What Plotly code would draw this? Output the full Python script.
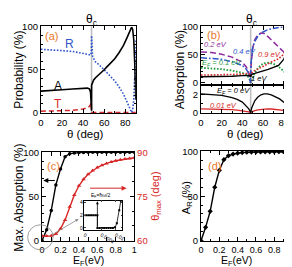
import plotly.graph_objects as go
import math

W, H = 292, 267
FONT = "Liberation Sans, Arial, sans-serif"
ORANGE = "#E8782A"
BLUE = "#2F55C8"
RED = "#D62828"
PURPLE = "#8E2C9E"
GREEN = "#1E9A3C"
GRAY = "#BBBBBB"

def X(px):
    return px / W

def Y(py):
    return 1 - py / H

# ---------------- Panel (a) data ----------------
theta_A = [0, 10, 20, 30, 40, 44, 46, 47, 47.6, 48.0, 48.05, 49, 50, 52, 55, 58, 60, 63, 66, 70, 74, 78, 81, 83, 85, 86, 87, 88, 89, 89.6, 90]
prob_A = [25, 25.5, 26.5, 27.5, 28.5, 28.5, 27.5, 24, 12, 2, 32, 36, 38, 41, 44, 47, 50, 54, 58, 63, 70, 78, 86, 92, 98, 100, 97, 85, 55, 25, 15]
theta_R = [0, 10, 20, 30, 40, 45, 47, 47.8, 48.0, 48.3, 49, 50, 52, 55, 58, 60, 63, 66, 70, 74, 78, 81, 83, 85, 86, 87, 88, 89, 89.6, 90]
prob_R = [74, 73.5, 72.5, 71.5, 69.5, 68, 67, 70, 90, 72, 66, 63, 59, 56, 53, 50, 46, 42, 37, 30, 22, 14, 8, 2, 0, 3, 15, 45, 75, 85]
theta_T = [0, 10, 20, 30, 40, 44, 46, 47, 47.8, 48.0, 50, 60, 70, 80, 90]
prob_T = [1.5, 1.5, 2, 2.5, 4, 5.5, 7, 9, 12, 0, 0, 0, 0, 0, 0]
theta_c = 48

# ---------------- Panel (b) data ----------------
theta_b = [0, 10, 20, 30, 40, 44, 46, 47, 47.6, 48, 48.4, 49, 50, 52, 55, 58, 61, 65, 70, 75, 80, 83, 85, 87, 88, 89, 90]
abs_02 = [55, 54, 51, 46, 37, 28, 20, 12, 5, 0, 30, 48, 62, 77, 86, 89, 88, 82, 73, 65, 55, 42, 30, 14, 6, 2, 0]
abs_04 = [45, 44, 42, 38, 31, 24, 17, 10, 4, 0, 35, 55, 64, 74, 83, 89, 92, 95, 97, 99, 100, 99, 95, 75, 50, 20, 0]
abs_01 = [27, 26, 24.5, 22, 18, 14, 10, 6, 3, 0, 2, 5, 10, 18, 26, 32, 35, 36, 34, 29, 21, 15, 10, 5, 2, 1, 0]
abs_09 = [14, 14, 14.5, 15, 16, 17, 17, 16, 14, 12, 16, 18, 20, 22, 25, 28, 31, 35, 39, 43, 51, 62, 75, 95, 100, 60, 0]
abs_10 = [11, 11, 11.5, 12, 13, 14, 14, 13.5, 12, 11, 14, 15, 16, 17, 19, 21, 22, 24, 27, 31, 42, 55, 70, 95, 100, 60, 0]

theta_lo = [0, 10, 20, 30, 35, 40, 44, 46, 47, 48, 49, 50, 52, 55, 58, 61, 64, 68, 72, 76, 80, 84, 87, 90]
abs_000 = [2.05, 2.0, 1.88, 1.65, 1.45, 1.15, 0.75, 0.45, 0.25, 0, 0.5, 0.85, 1.3, 1.7, 1.95, 2.05, 2.05, 1.95, 1.75, 1.5, 1.15, 0.75, 0.4, 0]
abs_001 = [0.42, 0.41, 0.38, 0.32, 0.28, 0.22, 0.15, 0.09, 0.05, 0, 0.08, 0.14, 0.22, 0.31, 0.37, 0.4, 0.41, 0.4, 0.37, 0.32, 0.26, 0.18, 0.1, 0]

# ---------------- Panel (c) data ----------------
ef = [0, 0.05, 0.1, 0.15, 0.2, 0.25, 0.3, 0.35, 0.4, 0.45, 0.5, 0.55, 0.6, 0.65, 0.7, 0.75, 0.8, 0.85, 0.9, 0.95, 1.0]
max_abs = [0, 12, 34, 63, 81, 95, 98.5, 99.3, 99.7, 99.9, 100, 100, 100, 100, 100, 100, 100, 100, 100, 100, 100]
theta_max = [61.5, 61.5, 61.6, 62.2, 64, 67, 71.5, 75.5, 78.6, 80.8, 82.5, 83.8, 84.8, 85.6, 86.2, 86.7, 87.1, 87.4, 87.7, 87.9, 88.1]

inset_ef = [5e-7, 1e-6, 2e-6, 4e-6, 8e-6, 1.6e-5, 3e-5, 3e-5, 6e-5, 1.2e-4, 2.5e-4, 5e-4, 1e-3, 2e-3, 4e-3, 8e-3, 1.4e-2, 3e-2, 5e-2]
inset_abs = [2, 2, 2, 2, 2, 2, 2, 0, 0, 0, 0, 0, 0, 0, 0, 0.1, 0.75, 2.8, 4.3]
inset_ticks = [10 ** -6.3, 1e-4, 1e-2]
inset_ticktext = ["0", "0.0001", "0.01"]
ef_half = 3e-5

# ---------------- Panel (d) data ----------------
a_r = [0, 15, 33, 60, 79, 91, 95.5, 97.3, 98.3, 98.9, 99.3, 99.5, 99.6, 99.7, 99.8, 99.85, 99.9, 99.9, 99.95, 100, 100]

fig = go.Figure()

DOT = "1.6px,1.6px"
DASH = "5px,3px"
LDASH = "6px,3px"
DASHDOT = "6px,2px,1.6px,2px"

def line(x, y, xa, ya, color, dash="solid", width=1.5, mode="lines", marker=None):
    d = dict(x=x, y=y, xaxis=xa, yaxis=ya, mode=mode,
             line=dict(color=color, dash=dash, width=width), showlegend=False,
             hoverinfo="skip")
    if marker:
        d["marker"] = marker
    fig.add_trace(go.Scatter(**d))

# (a)
line(theta_T, prob_T, "x", "y", RED, DASH)
line(theta_R, prob_R, "x", "y", BLUE, DOT, 1.6)
line(theta_A, prob_A, "x", "y", "black", "solid", 1.6)
# (b) upper
line(theta_b, abs_01, "x2", "y2", GREEN, DOT, 1.8)
line(theta_b, abs_02, "x2", "y2", PURPLE, LDASH, 1.5)
line(theta_b, abs_04, "x2", "y2", BLUE, DASHDOT, 1.5)
line(theta_b, abs_09, "x2", "y2", RED, DOT, 1.6)
line(theta_b, abs_10, "x2", "y2", "black", "solid", 1.4)
# (b) lower
line(theta_lo, abs_001, "x3", "y3", RED, "solid", 1.3)
line(theta_lo, abs_000, "x3", "y3", "black", "solid", 1.3)
# (c)
line(ef, max_abs, "x4", "y4", "black", "solid", 1.4, "lines+markers",
     dict(symbol="circle", size=3.5, color="black"))
line(ef, theta_max, "x4", "y5", RED, "solid", 1.4, "lines+markers",
     dict(symbol="triangle-up", size=4, color=RED))
# inset
line(inset_ef, inset_abs, "x6", "y6", "black", "solid", 0.8, "lines+markers",
     dict(symbol="square", size=2, color="black"))
# (d)
line(ef, a_r, "x7", "y7", "black", "solid", 1.4, "lines+markers",
     dict(symbol="diamond", size=4, color="black"))

tickfont = dict(size=9.5, color="black", family=FONT)
tickfont_s = dict(size=9, color="black", family=FONT)

def ax(domain, rng, dtick, minor_dtick, anchor, showlabels=True, mirror="allticks", **kw):
    d = dict(domain=domain, range=rng, dtick=dtick, anchor=anchor,
             showline=True, linecolor="black", linewidth=1, mirror=mirror,
             ticks="inside", ticklen=4, tickcolor="black", tickwidth=1,
             showgrid=False, zeroline=False, showticklabels=showlabels,
             tickfont=tickfont, tick0=0,
             minor=dict(ticks="inside", ticklen=2, tickcolor="black", dtick=minor_dtick, tick0=0, showgrid=False))
    d.update(kw)
    return d

xa_dom = [X(30.5), X(127.5)]
ya_dom = [Y(104), Y(14)]
xb_dom = [X(194), X(289)]
yb_up = [Y(75), Y(14)]
yb_lo = [Y(104), Y(75)]
xc_dom = [X(31.7), X(125.8)]
yc_dom = [Y(237), Y(144)]
xd_dom = [X(194), X(287.5)]
yd_dom = [Y(237.3), Y(143.3)]
xi_dom = [X(75), X(113.3)]
yi_dom = [Y(225), Y(195)]

fig.update_layout(
    width=W, height=H, autosize=False,
    margin=dict(l=0, r=0, t=0, b=0),
    paper_bgcolor="white", plot_bgcolor="rgba(0,0,0,0)",
    font=dict(family=FONT, color="black"),
    xaxis=ax(xa_dom, [0, 90], 20, 10, "y"),
    yaxis=ax(ya_dom, [-0.8, 100.8], 50, 10, "x"),
    xaxis2=ax(xb_dom, [0, 90], 20, 10, "y2", showlabels=False),
    yaxis2=ax(yb_up, [-4, 100.5], 50, 10, "x2"),
    xaxis3=ax(xb_dom, [0, 90], 20, 10, "y3"),
    yaxis3=ax(yb_lo, [-0.05, 3.0], 2, 1, "x3"),
    xaxis4=ax(xc_dom, [0, 1], 0.2, 0.1, "y4", tickformat="~g", tickfont=tickfont_s),
    yaxis4=ax(yc_dom, [-0.8, 100.8], 50, 10, "x4", mirror=False),
    yaxis5=ax(yc_dom, [59.8, 90.2], 15, 5, "x4", mirror=False, side="right",
              overlaying="y4", tickfont=dict(size=9.5, color=RED, family=FONT)),
    xaxis6=dict(domain=xi_dom, type="log", range=[-6.3, -1.15], anchor="y6",
                tickvals=inset_ticks, ticktext=inset_ticktext,
                showline=True, linecolor="black", linewidth=0.6, mirror="allticks",
                ticks="inside", ticklen=1.5, tickwidth=0.6, showgrid=False, zeroline=False,
                tickfont=dict(size=5, color="black", family=FONT)),
    yaxis6=dict(domain=yi_dom, range=[-0.25, 4.3], dtick=2, anchor="x6",
                showline=True, linecolor="black", linewidth=0.6, mirror="allticks",
                ticks="inside", ticklen=1.5, tickwidth=0.6, showgrid=False, zeroline=False,
                tickfont=dict(size=5, color="black", family=FONT)),
    xaxis7=ax(xd_dom, [0, 1], 0.2, 0.1, "y7", tickformat="~g", tickfont=tickfont_s),
    yaxis7=ax(yd_dom, [-0.8, 100.8], 50, 10, "x7"),
)

shapes = [
    dict(type="line", xref="x", yref="y domain", x0=theta_c, x1=theta_c, y0=0, y1=1,
         line=dict(color=GRAY, width=1.5), layer="below"),
    dict(type="line", xref="x2", yref="y2 domain", x0=theta_c, x1=theta_c, y0=0, y1=1,
         line=dict(color=GRAY, width=1.5), layer="below"),
    dict(type="line", xref="x3", yref="y3 domain", x0=theta_c, x1=theta_c, y0=0, y1=1,
         line=dict(color=GRAY, width=1.5), layer="below"),
    dict(type="circle", xref="paper", yref="paper", x0=X(17), x1=X(43), y0=Y(246), y1=Y(220),
         line=dict(color="#888888", width=0.8)),
    dict(type="rect", xref="paper", yref="paper", x0=xi_dom[0], x1=xi_dom[1], y0=yi_dom[0], y1=yi_dom[1],
         fillcolor="white", line=dict(width=0), layer="below"),
]
fig.update_layout(shapes=shapes)

def ann(text, px, py, size=12, color="black", angle=0, xanchor="center", yanchor="middle"):
    return dict(text=text, x=X(px), y=Y(py), xref="paper", yref="paper", showarrow=False,
                font=dict(size=size, color=color, family=FONT), textangle=angle,
                xanchor=xanchor, yanchor=yanchor, borderpad=0)

anns = [
    ann("θ<sub>c</sub>", 82, 7, 12),
    ann("θ<sub>c</sub>", 246, 7, 12),
    ann("(a)", 41, 24, 11, ORANGE),
    ann("R", 60, 32, 12, BLUE),
    ann("A", 48, 76, 12),
    ann("T", 48, 95, 12, RED),
    ann("(b)", 207, 23, 11, ORANGE),
    ann("<i>0.2 eV</i>", 209, 33, 7.5, PURPLE),
    ann("<i>0.4 eV</i>", 238, 40.5, 7.5, BLUE),
    ann("<i>0.9 eV</i>", 264, 43, 7.5, RED),
    ann("<i>E<sub>F</sub> = 0.1 eV</i>", 215, 52, 7.5, GREEN),
    ann("<i>1 eV</i>", 253, 68, 7.5, "black"),
    ann("<i>E<sub>F</sub> = 0 eV</i>", 227, 81, 7.5, "black"),
    ann("<i>0.01 eV</i>", 217, 96, 7.5, RED),
    ann("(c)", 43, 159, 11, ORANGE),
    ann("(d)", 208, 159, 11, ORANGE),
    ann("E<sub>F</sub>=ħω/2", 91, 190, 5),
    # axis titles
    ann("θ (deg)", 76, 126, 11.5),
    ann("Probability (%)", 8, 59, 12, angle=-90),
    ann("Absorption (%)", 172, 59, 12, angle=-90),
    ann("θ (deg)", 239, 126, 11.5),
    ann("Max. Absorption (%)", 8, 192, 12, angle=-90),
    ann("E<sub>F</sub>(eV)", 79, 257.6, 10.5),
    ann("θ<sub>max</sub> (deg)", 148, 190, 11, RED, angle=-90),
    ann("A<sub>R</sub> (%)", 179, 192, 11, angle=-90),
    ann("E<sub>F</sub>(eV)", 230, 257.6, 10.5),
    # arrows in (c)
    dict(x=X(33), y=Y(174), xref="paper", yref="paper", ax=13, ay=0, showarrow=True,
         arrowhead=2, arrowsize=1, arrowwidth=1, arrowcolor="black", text=""),
    dict(x=X(118), y=Y(182), xref="paper", yref="paper", ax=-38, ay=0, showarrow=True,
         arrowhead=2, arrowsize=1, arrowwidth=1, arrowcolor=RED, text=""),
    dict(x=X(69), y=Y(214), xref="paper", yref="paper", ax=-27, ay=16, showarrow=True,
         arrowhead=2, arrowsize=0.8, arrowwidth=0.8, arrowcolor="#888888", text=""),
    dict(x=math.log10(ef_half), y=4.2, xref="x6", yref="y6", axref="x6", ayref="y6",
         ax=math.log10(ef_half), ay=0, showarrow=True, arrowhead=2, arrowsize=0.7,
         arrowwidth=0.8, arrowcolor="black", text=""),
]
fig.update_layout(annotations=anns)

fig.write_html("out.html")
